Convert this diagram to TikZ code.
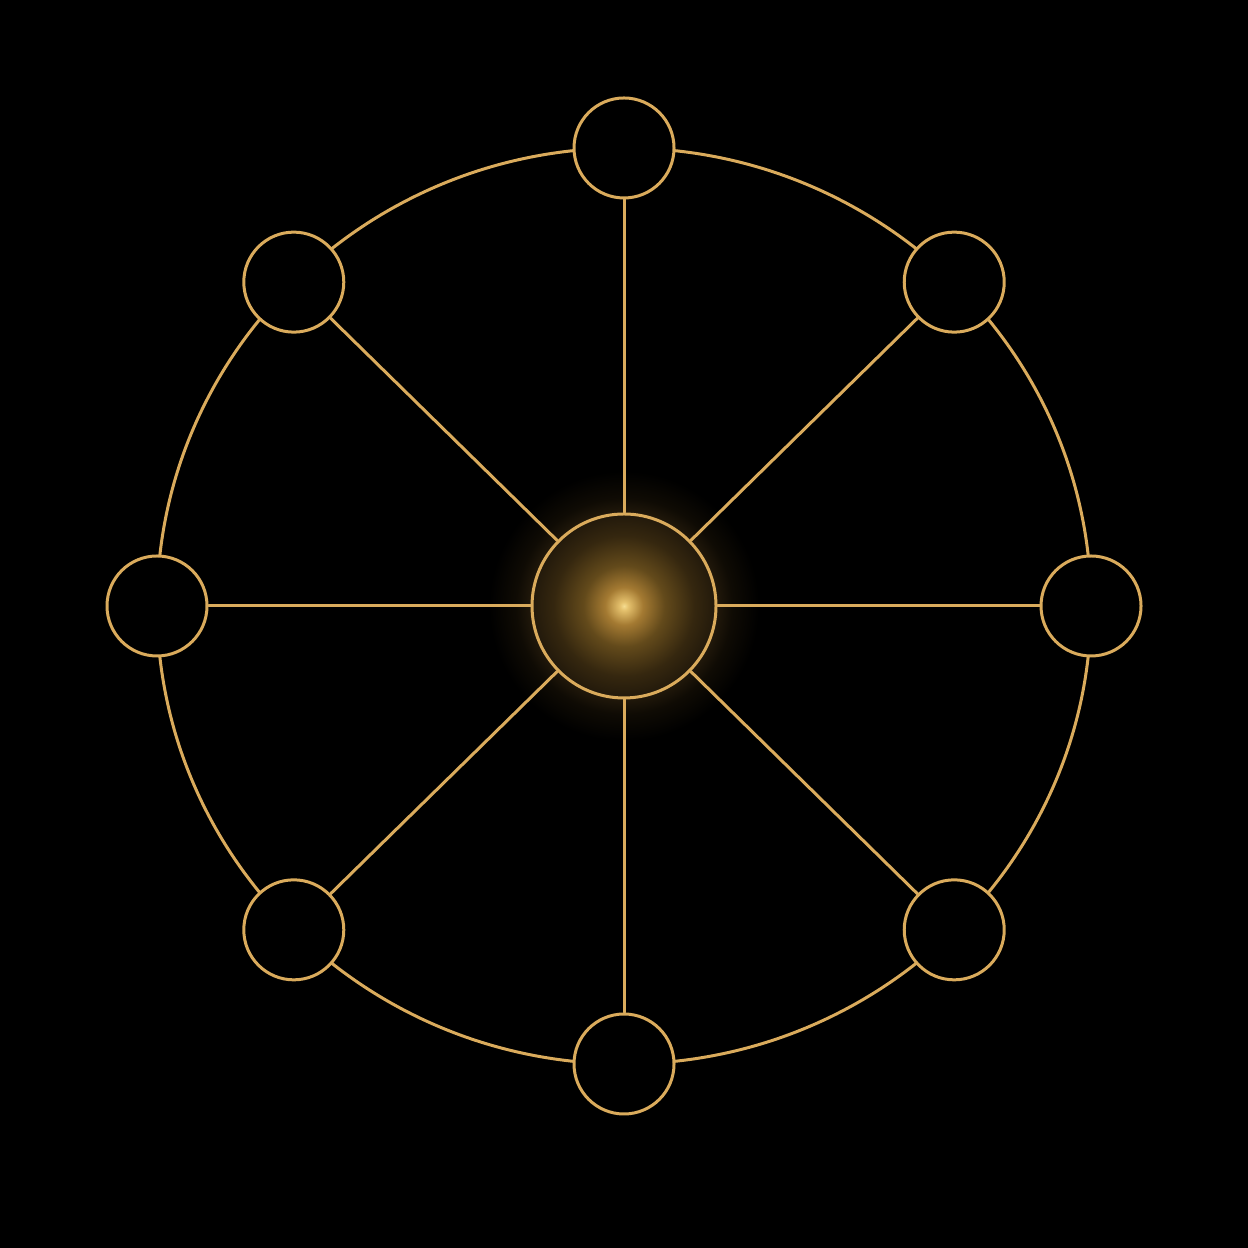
\documentclass[tikz,border=0pt]{standalone}
\usepackage{tikz}
\usetikzlibrary{calc}
\definecolor{gold}{HTML}{DAAB5C}
\definecolor{glowcore}{HTML}{F5DC90}
\definecolor{glowhot}{HTML}{E4C06C}
\definecolor{glowmid}{HTML}{A47A32}
\definecolor{glowwarm}{HTML}{634A1B}
\definecolor{glowdim}{HTML}{35270F}
\definecolor{glowedge}{HTML}{22190B}
\definecolor{glowout}{HTML}{0F0B04}
\pgfdeclareradialshading{hubglow}{\pgfpoint{0cm}{0cm}}{%
	color(0bp)=(glowcore); color(0.8bp)=(glowhot); color(3.5bp)=(glowmid);
	color(7.5bp)=(glowwarm); color(13bp)=(glowdim); color(17bp)=(glowedge);
	color(20bp)=(glowout); color(25bp)=(black); color(50bp)=(black)}

\begin{document}
\begin{tikzpicture}[
			line join=round, line cap=round,
			spoke/.style={gold, line width=0.03cm},
			orb/.style={circle, draw=gold, line width=0.03cm, fill=black,
					inner sep=0pt, minimum size=1cm},
			hub/.style={circle, draw=gold, line width=0.03cm,
					inner sep=0pt, minimum size=1.84cm}
		]
		% Parameters
		\def\RX{4.67}
		\def\RY{4.58}
		\coordinate (C) at (6.24,6.42);

		% Background
		\fill[black] (0,0) rectangle (12.48,12.48);
		\useasboundingbox (0,0) rectangle (12.48,12.48);

		% Glow
		\shade[shading=hubglow] (C) circle (1.35);

		% Ring
		\draw[spoke] (C) ellipse ({\RX} and {\RY});

		% Nodes
		\node[hub] (hub) at (C) {};
		\foreach \k in {0,...,7}{
				\node[orb] (n\k) at ($(C)+({\RX*cos(45*\k)},{\RY*sin(45*\k)})$) {};
			}

		% Spokes
		\foreach \k in {0,...,7}{
				\draw[spoke] (hub) -- (n\k);
			}
	\end{tikzpicture}
\end{document}
